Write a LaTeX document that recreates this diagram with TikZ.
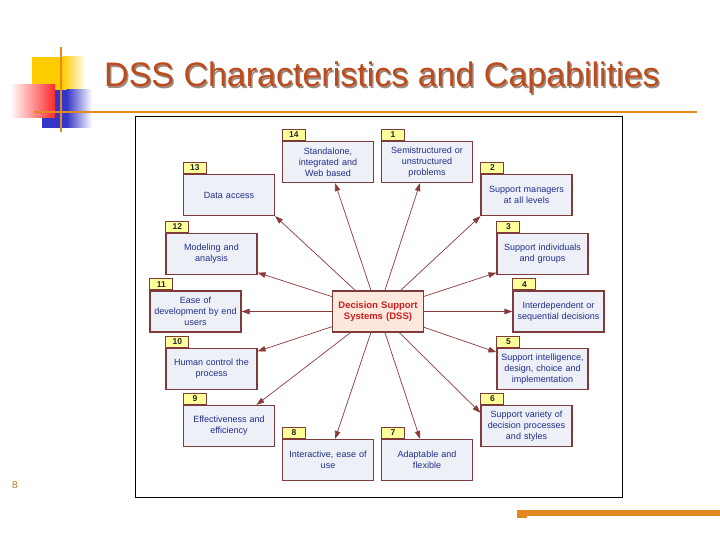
\documentclass[tikz,border=0pt]{standalone}
\usepackage{fontspec}
\setmainfont{Liberation Sans}
\usetikzlibrary{arrows.meta,calc}
\definecolor{brd}{HTML}{7F3B3B}
\definecolor{boxfill}{HTML}{EEF0F7}
\definecolor{boxtxt}{HTML}{1F2D8A}
\definecolor{tabfill}{HTML}{FFFF99}
\definecolor{cfill}{HTML}{FDE8DD}
\definecolor{ctxt}{HTML}{CC1F1F}
\definecolor{arr}{HTML}{8B3A3A}
\definecolor{titlec}{HTML}{BD4B1C}
\definecolor{tshadow}{HTML}{9A8A80}
\definecolor{orng}{HTML}{E3891F}
\definecolor{decoy}{HTML}{FFCC00}
\definecolor{decob}{HTML}{3535C8}
\definecolor{decor}{HTML}{FF2A2A}
\begin{document}
\begin{tikzpicture}[x=1pt,y=-1pt,
  feat/.style={draw=brd, line width=1.2pt, fill=boxfill, minimum width=91pt, minimum height=41pt,
    inner sep=1pt, text width=89pt, align=center, font=\fontsize{9}{10.8}\selectfont, text=boxtxt},
  tabl/.style={draw=brd, line width=1pt, fill=tabfill, minimum width=23pt, minimum height=11pt,
    inner sep=0pt, font=\bfseries\fontsize{8.5}{8.5}\selectfont, text=black!85, anchor=south west},
  hub/.style={draw=brd, line width=1.2pt, fill=cfill, minimum width=91pt, minimum height=41pt,
    inner sep=1pt, text width=89pt, align=center, font=\bfseries\fontsize{9.5}{11}\selectfont, text=ctxt},
  link/.style={draw=arr, line width=0.7pt, -{Triangle[length=8pt,width=5.5pt]}},
]
\fill[white] (0,0) rectangle (720,540);
\useasboundingbox (0,0) rectangle (720,540);
% decoration
\fill[decoy] (32,57) rectangle (63,90);
\shade[left color=decoy, right color=white] (62.5,57) rectangle (86,90);
\fill[decob] (42,90) rectangle (67,128);
\shade[left color=decob, right color=white] (66.5,90) rectangle (92,128);
\shade[left color=white, right color=decor] (10,85) rectangle (55,118);
\draw[orng, line width=1.6pt] (61,47) -- (61,132);
\draw[orng, line width=1.6pt] (34,112) -- (697,112);
% title
\node[text=tshadow, font=\fontsize{34}{34}\selectfont] at (383.5,79.5) {DSS Characteristics and Capabilities};
\node[text=titlec, font=\fontsize{34}{34}\selectfont] (title) at (382,78) {DSS Characteristics and Capabilities};
% frame
\draw[line width=1pt] (135,117) rectangle (622,497);
% boxes
\node[hub] (c) at (378,311.5) {Decision Support\\Systems (DSS)};
\node[feat] (b14) at (328,162) {Standalone,\\integrated and\\Web based};
\node[feat] (b1) at (427,162) {Semistructured or\\unstructured\\problems};
\node[feat] (b13) at (229,195) {Data access};
\node[feat] (b2) at (526.5,195) {Support managers\\at all levels};
\node[feat] (b12) at (211.5,254) {Modeling and\\analysis};
\node[feat] (b3) at (542.5,254) {Support individuals\\and groups};
\node[feat] (b11) at (195.5,311.5) {Ease of\\development by end\\users};
\node[feat] (b4) at (558.5,311.5) {Interdependent or\\sequential decisions};
\node[feat] (b10) at (211.5,369) {Human control the\\process};
\node[feat] (b5) at (542.5,369) {Support intelligence,\\design, choice and\\implementation};
\node[feat] (b9) at (229,426) {Effectiveness and\\efficiency};
\node[feat] (b6) at (526.5,426) {Support variety of\\decision processes\\and styles};
\node[feat] (b8) at (328,460) {Interactive, ease of\\use};
\node[feat] (b7) at (427,460) {Adaptable and\\flexible};
% tabs
\foreach \n in {1,...,14} {\node[tabl] (t\n) at (b\n.north west) {\n};}
% links
\draw[link] (c) -- (b1);
\draw[link] (c) -- (b2.south west);
\draw[link] (c) -- (b3.202);
\draw[link] (c) -- (b4);
\draw[link] (c) -- (b5.160);
\draw[link] (c) -- (b6.164);
\draw[link] (c) -- (b7);
\draw[link] (c) -- (b8);
\draw[link] (c) -- (b9);
\draw[link] (c) -- (b10.21);
\draw[link] (c) -- (b11);
\draw[link] (c) -- (b12.-22);
\draw[link] (c) -- (b13.south east);
\draw[link] (c) -- (b14);
% footer
\node[text=orng!85!black, font=\fontsize{10}{10}\selectfont] (pg) at (15,485) {8};
\fill[orng] (517,510) rectangle (720,515.5);
\fill[orng] (517,515) rectangle (527,517.5);
\end{tikzpicture}
\end{document}
